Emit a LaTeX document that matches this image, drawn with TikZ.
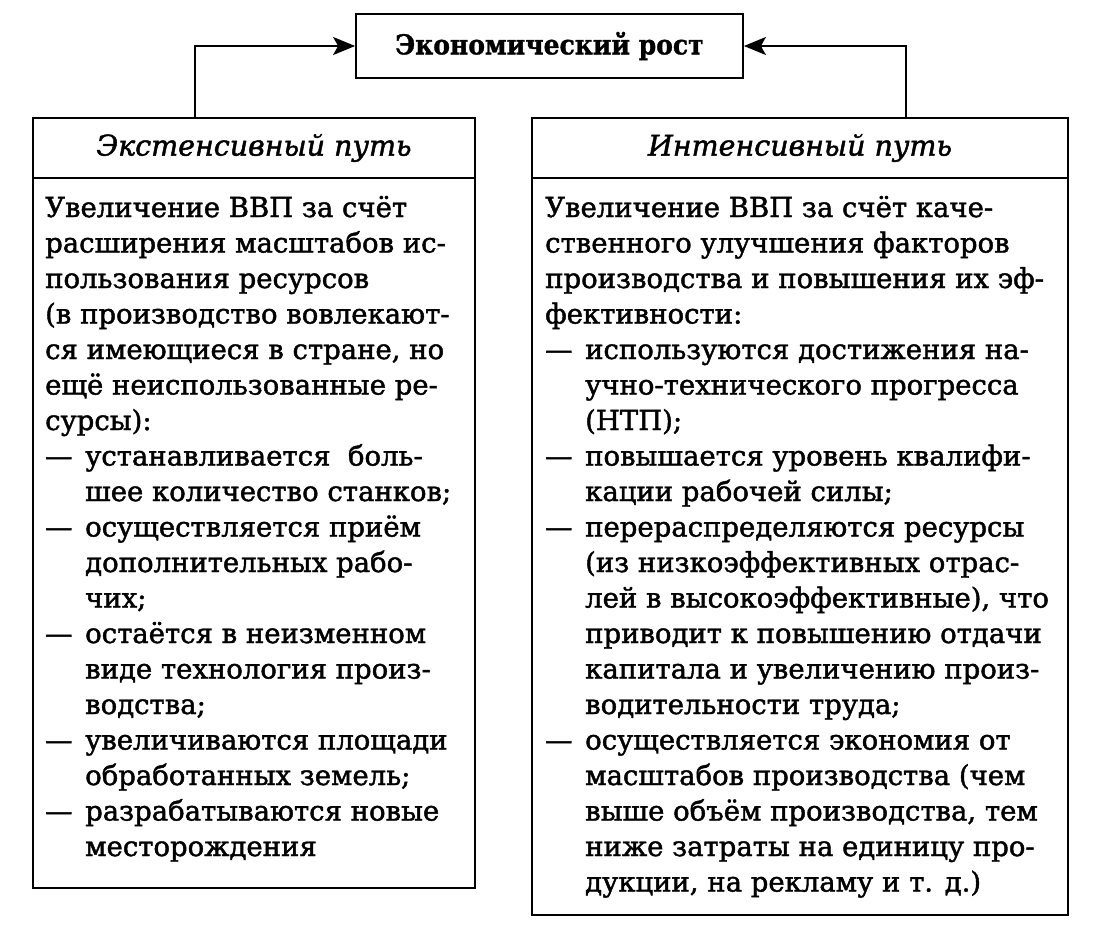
\documentclass[tikz,border=0pt]{standalone}
\usepackage{fontspec}
\usepackage{graphicx}
\setmainfont{DejaVu Serif}
\newfontfamily\bodyfont{DejaVu Serif}[FakeBold=1.6]
\newfontface\titleface{DejaVu Serif Bold}[FakeBold=1.2]
\usetikzlibrary{arrows.meta}
\newcommand\bodysize{\bodyfont\fontsize{27.5pt}{31pt}\selectfont}
\newcommand\headsize{\bodyfont\itshape\fontsize{28.5pt}{31pt}\selectfont}
\newcommand\D[1]{\makebox[40pt][l]{—}#1}
\newcommand\C[1]{\hspace*{40pt}#1}
\begin{document}
\begin{tikzpicture}[x=1pt,y=-1pt,
  box/.style={draw, line width=1.8pt, inner sep=0pt},
  bodyline/.style={anchor=base west, inner sep=0pt, font=\bodysize},
  headtext/.style={font=\headsize},
  conn/.style={line width=2pt, -{Stealth[length=22pt,width=18pt,inset=5pt]}}]
\useasboundingbox (0,0) rectangle (1102,943);
\fill[white] (0,0) rectangle (1102,943);
% top box
\node[box, minimum width=387pt, minimum height=64pt, font=\titleface\fontsize{27.5pt}{31pt}\selectfont] (top) at (549.5,46) {\scalebox{0.91}[1]{Экономический рост}};
% left boxes
\node[box, minimum width=442pt, minimum height=60pt] (lhead) at (254,148) {};
\node[box, minimum width=442pt, minimum height=710pt] (lbody) at (254,533) {};
\node[headtext] (lheadtext) at (lhead.center) {Экстенсивный путь};
% right boxes
\node[box, minimum width=536pt, minimum height=60pt] (rhead) at (800,148) {};
\node[box, minimum width=536pt, minimum height=737pt] (rbody) at (800,546.5) {};
\node[headtext] (rheadtext) at (rhead.center) {Интенсивный путь};
% connectors
\coordinate (lstart) at (195,118);
\coordinate (rstart) at (906,118);
\draw[conn] (lstart) |- (top.west);
\draw[conn] (rstart) |- (top.east);
% left text
\foreach \t [count=\i] in {
{Увеличение ВВП за счёт},
{расширения масштабов ис-},
{пользования ресурсов},
{(в производство вовлекают-},
{ся имеющиеся в стране, но},
{ещё неиспользованные ре-},
{сурсы):},
{\D{устанавливается\ \ боль-}},
{\C{шее количество станков;}},
{\D{осуществляется приём}},
{\C{дополнительных рабо-}},
{\C{чих;}},
{\D{остаётся в неизменном}},
{\C{виде технология произ-}},
{\C{водства;}},
{\D{увеличиваются площади}},
{\C{обработанных земель;}},
{\D{разрабатываются новые}},
{\C{месторождения}}}
  \node[bodyline] (L\i) at (45,{217+35.5*(\i-1)}) {\t};
% right text
\foreach \t [count=\i] in {
{Увеличение ВВП за счёт каче-},
{ственного улучшения факторов},
{производства и повышения их эф-},
{фективности:},
{\D{используются достижения на-}},
{\C{учно-технического прогресса}},
{\C{(НТП);}},
{\D{повышается уровень квалифи-}},
{\C{кации рабочей силы;}},
{\D{перераспределяются ресурсы}},
{\C{(из низкоэффективных отрас-}},
{\C{лей в высокоэффективные), что}},
{\C{приводит к повышению отдачи}},
{\C{капитала и увеличению произ-}},
{\C{водительности труда;}},
{\D{осуществляется экономия от}},
{\C{масштабов производства (чем}},
{\C{выше объём производства, тем}},
{\C{ниже затраты на единицу про-}},
{\C{дукции, на рекламу и т. д.)}}}
  \node[bodyline] (R\i) at (545,{217+35.5*(\i-1)}) {\t};
\end{tikzpicture}
\end{document}
